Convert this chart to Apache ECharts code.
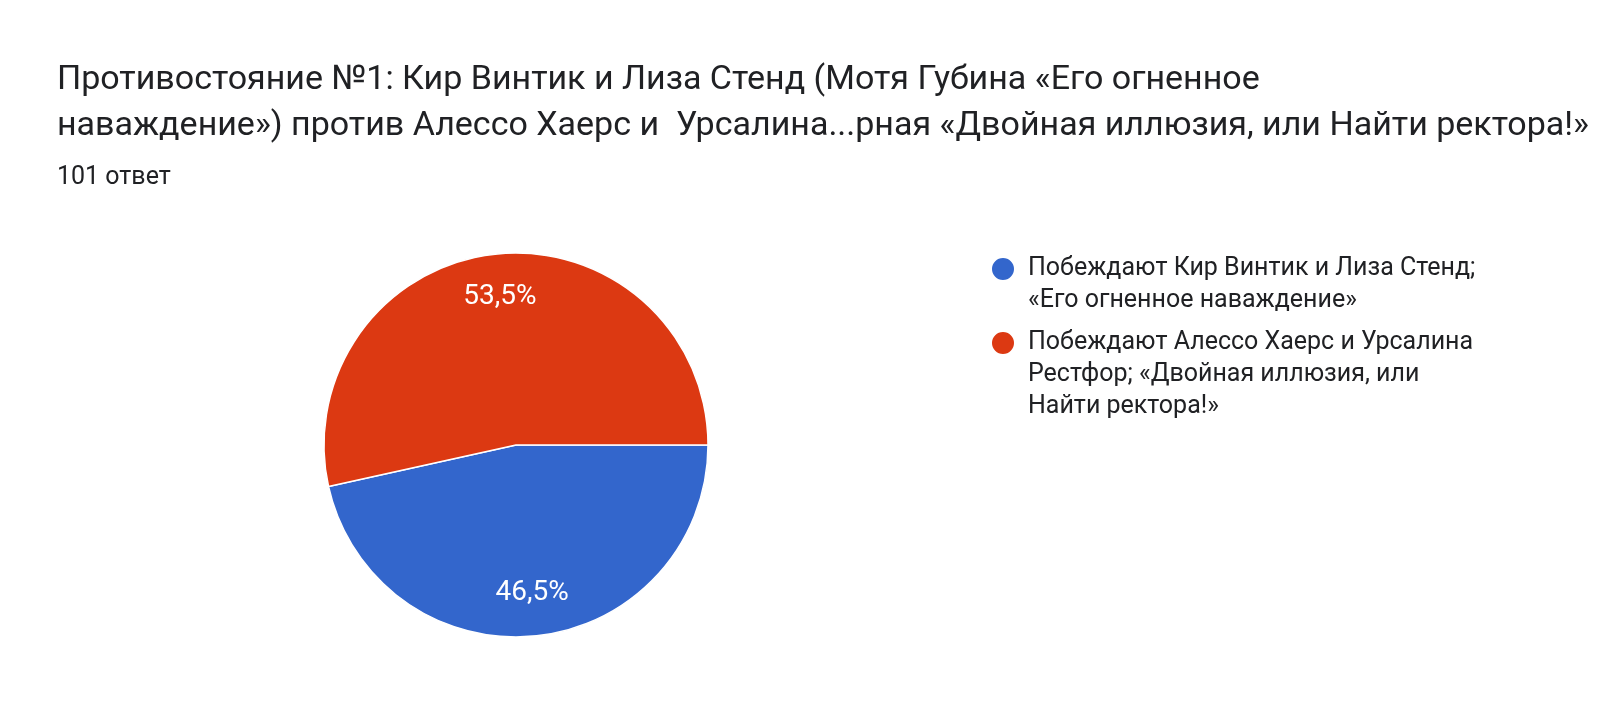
<!DOCTYPE html><html><head><meta charset="utf-8">
<script src="https://cdn.jsdelivr.net/npm/echarts@6/dist/echarts.min.js"></script>
<style>html,body{margin:0;background:#fff}#c{width:1600px;height:726px}</style></head><body><div id="c"></div>
<script>
const categories = ['Побеждают Кир Винтик и Лиза Стенд;\n«Его огненное наваждение»','Побеждают Алессо Хаерс и Урсалина\nРестфор; «Двойная иллюзия, или\nНайти ректора!»'];
const values = [47, 54];
const colors = ['#3366cc','#dc3912'];
const total = values.reduce((a,b)=>a+b,0);
const data = categories.map((n,i)=>({name:n,value:values[i],itemStyle:{color:colors[i]}}));
function icon(h){return 'path://M12,0 L12.01,0 Z M0,16 A12,12 0 1,0 24,16 A12,12 0 1,0 0,16 Z M12,'+h+' L12.01,'+h+' Z';}
const legendText={fontFamily:'Roboto',fontSize:25,color:'#202124',lineHeight:32,padding:[0,0,0,6]};
const chart = echarts.init(document.getElementById('c'));
chart.setOption({
  animation:false,
  title:{text:'Противостояние №1: Кир Винтик и Лиза Стенд (Мотя Губина «Его огненное\nнаваждение») против Алессо Хаерс и  Урсалина...рная «Двойная иллюзия, или Найти ректора!»',
    subtext:'101 ответ', left:52, top:52, itemGap:16,
    textStyle:{fontFamily:'Roboto',fontSize:34,fontWeight:'normal',color:'#202124',lineHeight:46},
    subtextStyle:{fontFamily:'Roboto',fontSize:25,color:'#202124'}},
  legend:[
   {orient:'vertical',left:990,top:252,itemWidth:28,itemHeight:64,padding:0,
    data:[{name:categories[0],icon:icon(64)}],textStyle:legendText},
   {orient:'vertical',left:990,top:326,itemWidth:28,itemHeight:96,padding:0,
    data:[{name:categories[1],icon:icon(96)}],textStyle:legendText}
  ],
  series:[
   {type:'pie',center:[516,445],radius:[0,192],startAngle:0,clockwise:true,data:data,
    itemStyle:{borderColor:'#fff',borderWidth:1.5},label:{show:false},labelLine:{show:false},silent:true},
   {type:'pie',center:[516,445],radius:[100,192],startAngle:0,clockwise:true,silent:true,
    data:categories.map((n,i)=>({name:n+' ',value:values[i],itemStyle:{color:'rgba(0,0,0,0)'}})),
    label:{show:true,position:'inside',fontFamily:'Roboto',fontSize:28,color:'#fff',
      formatter:p=>(p.value/total*100).toFixed(1).replace('.',',')+'%'},
    labelLine:{show:false}}
  ]
});
</script></body></html>
